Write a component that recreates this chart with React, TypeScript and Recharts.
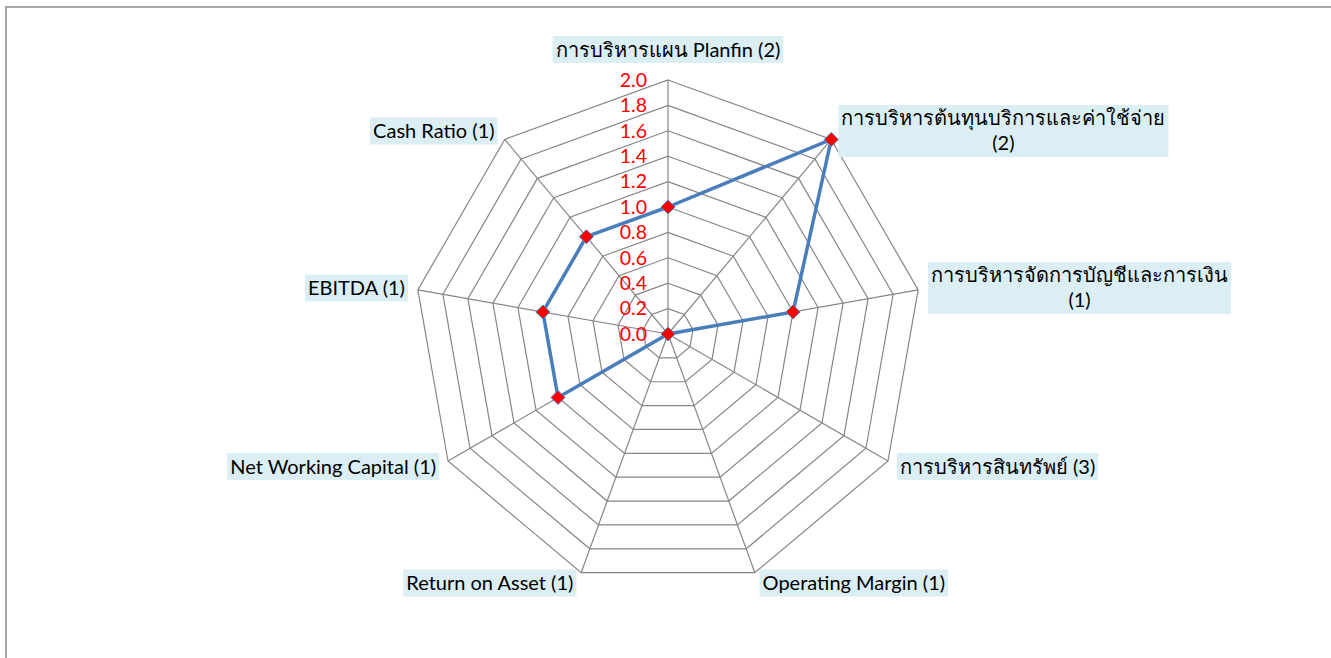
import { useLayoutEffect, useRef, useState } from 'react';
import { RadarChart, Radar, PolarGrid, PolarAngleAxis, PolarRadiusAxis } from 'recharts';

// Categories (clockwise from the top) and scores
const categories = [
  'การบริหารแผน Planfin (2)',
  'การบริหารต้นทุนบริการและค่าใช้จ่าย (2)',
  'การบริหารจัดการบัญชีและการเงิน (1)',
  'การบริหารสินทรัพย์ (3)',
  'Operating Margin (1)',
  'Return on Asset (1)',
  'Net Working Capital (1)',
  'EBITDA (1)',
  'Cash Ratio (1)',
];
const scores = [1.0, 2.0, 1.0, 0, 0, 0, 1.0, 1.0, 1.0];
const radiusTicks = [0, 0.2, 0.4, 0.6, 0.8, 1.0, 1.2, 1.4, 1.6, 1.8, 2.0];

const data = categories.map((name, i) => ({ name, value: scores[i] }));

const CX = 668;
const CY = 334;
const R = 254;
const FONT = 'Lato, "Open Sans", "Noto Sans", sans-serif';

// long labels wrap their "(n)" onto a second line, like the original
const splitLabel = (s: string) => {
  if (s.length <= 28) return [s];
  const k = s.lastIndexOf(' ');
  return [s.slice(0, k), s.slice(k + 1)];
};

const AngleTick = (props: any) => {
  const { payload } = props;
  const lines = splitLabel(String(payload.value));
  const refs = useRef<(SVGTextElement | null)[]>([]);
  const [widths, setWidths] = useState<number[] | null>(null);

  useLayoutEffect(() => {
    setWidths(refs.current.map((t) => (t ? t.getComputedTextLength() : 0)));
  }, [payload.value]);

  const a = (payload.coordinate * Math.PI) / 180;
  const cos = Math.cos(a);
  const sin = Math.sin(a);
  const vx = CX + R * cos;
  const vy = CY - R * sin;

  const lineH = 25;
  const boxW = (widths ? Math.max(...widths) : 0) + 6;
  const boxH = lines.length * lineH + 2;
  const gap = 2 + 8 * Math.abs(cos);

  let left = vx - boxW / 2;
  if (cos > 0.1) left = vx + gap;
  else if (cos < -0.1) left = vx - gap - boxW;

  let top;
  if (Math.abs(cos) <= 0.1 && sin > 0) top = vy - 17 - boxH;
  else top = vy - sin * 11 - boxH / 2;

  return (
    <g>
      {widths && <rect x={left} y={top} width={boxW} height={boxH} fill="#DAEEF3" />}
      {lines.map((ln, i) => (
        <text
          key={i}
          ref={(el) => { refs.current[i] = el; }}
          x={left + boxW / 2}
          y={top + 1 + lineH * i + lineH / 2}
          dy="0.35em"
          textAnchor="middle"
          fontSize={20}
          fontFamily={FONT}
          fill="#000"
          opacity={widths ? 1 : 0}
        >
          {ln}
        </text>
      ))}
    </g>
  );
};

const RadiusTick = (props: any) => {
  const { x, y, payload } = props;
  return (
    <text x={x - 21} y={y} dy="0.35em" textAnchor="end" fontSize={19.5} fontFamily={FONT} fill="#FF0000">
      {Number(payload.value).toFixed(1)}
    </text>
  );
};

const Diamond = (props: any) => {
  const { cx, cy } = props;
  const s = 7;
  return (
    <polygon
      points={`${cx},${cy - s} ${cx + s},${cy} ${cx},${cy + s} ${cx - s},${cy}`}
      fill="#FF0000"
      stroke="#4F81BD"
      strokeWidth={1}
    />
  );
};

export default function App() {
  return (
    <div style={{ position: 'absolute', left: 0, top: 0, width: 1331, height: 658, overflow: 'hidden', background: '#fff' }}>
      <div
        style={{
          position: 'absolute',
          left: 5,
          top: 6,
          width: 1400,
          height: 700,
          borderTop: '2px solid #a6a6a6',
          borderLeft: '2px solid #a6a6a6',
        }}
      />
      <div style={{ position: 'absolute', left: 0, top: 0 }}>
        <RadarChart width={1331} height={658} cx={CX} cy={CY} outerRadius={R} data={data} margin={{ top: 0, right: 0, bottom: 0, left: 0 }}>
          <PolarGrid gridType="polygon" stroke="#868686" strokeWidth={1.2} />
          <PolarAngleAxis dataKey="name" tick={<AngleTick />} tickLine={false} axisLine={false} />
          <PolarRadiusAxis
            type="number"
            angle={90}
            domain={[0, 2]}
            ticks={radiusTicks}
            tickCount={11}
            tick={<RadiusTick />}
            axisLine={false}
            tickLine={false}
          />
          <Radar
            dataKey="value"
            stroke="#4A7EBB"
            strokeWidth={3.5}
            fill="none"
            fillOpacity={0}
            dot={<Diamond />}
            isAnimationActive={false}
          />
        </RadarChart>
      </div>
    </div>
  );
}
